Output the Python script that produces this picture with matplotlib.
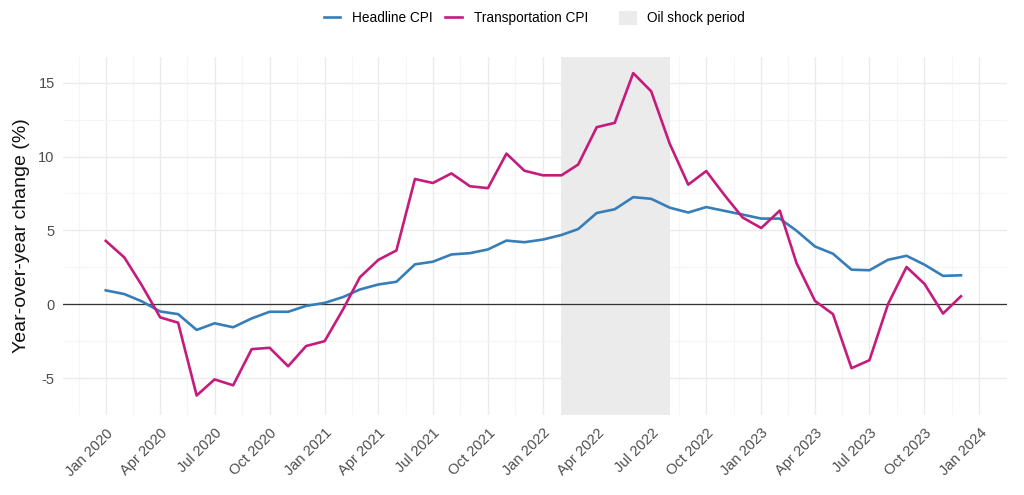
import numpy as np
import pandas as pd
import matplotlib
matplotlib.use("Agg")
import matplotlib.pyplot as plt
import matplotlib.dates as mdates
from matplotlib.lines import Line2D
from matplotlib.patches import Patch

plt.rcParams["font.family"] = ["Liberation Sans", "DejaVu Sans"]
plt.rcParams["axes.unicode_minus"] = False

months = pd.date_range("2020-01-01", "2023-12-01", freq="MS")

headline_cpi = [0.94, 0.69, 0.2, -0.49, -0.67, -1.74, -1.29, -1.56, -0.96, -0.51, -0.51, -0.11,
                0.09, 0.49, 1.0, 1.34, 1.52, 2.70, 2.88, 3.37, 3.46, 3.71, 4.31, 4.20,
                4.38, 4.69, 5.09, 6.18, 6.43, 7.25, 7.14, 6.54, 6.21, 6.58, 6.32, 6.07,
                5.80, 5.80, 4.98, 3.91, 3.42, 2.34, 2.30, 3.01, 3.28, 2.68, 1.92, 1.96]

transport_cpi = [4.29, 3.17, 1.3, -0.89, -1.25, -6.18, -5.09, -5.49, -3.04, -2.95, -4.20, -2.83,
                 -2.50, -0.33, 1.83, 3.01, 3.64, 8.48, 8.21, 8.86, 7.99, 7.86, 10.20, 9.04,
                 8.73, 8.73, 9.46, 11.99, 12.28, 15.65, 14.42, 10.87, 8.10, 9.02, 7.37, 5.87,
                 5.16, 6.34, 2.79, 0.22, -0.67, -4.33, -3.79, 0.0, 2.52, 1.38, -0.63, 0.54]

shock_start = pd.Timestamp("2022-02-01")
shock_end = pd.Timestamp("2022-08-01")

blue = "#377EB8"
magenta = "#C51B7D"

fig = plt.figure(figsize=(10.24, 4.95), dpi=100)
ax = fig.add_axes([63 / 1024, 1 - 415 / 495, (1007 - 63) / 1024, (415 - 57) / 495])

ax.axvspan(shock_start, shock_end, color="#EBEBEB", lw=0, zorder=1)
ax.axhline(0, color="#333333", lw=0.9, zorder=2)
ax.plot(months, headline_cpi, color=blue, lw=1.9, zorder=3)
ax.plot(months, transport_cpi, color=magenta, lw=1.9, zorder=3)

# limits with ggplot-like 5% expansion
x0, x1 = mdates.date2num(months[0]), mdates.date2num(months[-1])
dx = (x1 - x0) * 0.05
ax.set_xlim(x0 - dx, x1 + dx)
allv = headline_cpi + transport_cpi
ymin, ymax = min(allv), max(allv)
dy = (ymax - ymin) * 0.05
ax.set_ylim(ymin - dy, ymax + dy)

major = pd.date_range("2020-01-01", "2024-01-01", freq="QS")
major_num = mdates.date2num(major)
minor_num = list((major_num[:-1] + major_num[1:]) / 2)
minor_num = [major_num[0] - (major_num[1] - major_num[0]) / 2] + minor_num + \
            [major_num[-1] + (major_num[-1] - major_num[-2]) / 2]
ax.set_xticks(major_num)
ax.set_xticks(minor_num, minor=True)
ax.set_xticklabels([d.strftime("%b %Y") for d in major], rotation=45, ha="right",
                   rotation_mode="anchor")
ax.set_yticks([-5, 0, 5, 10, 15])
ax.set_yticks([-7.5, -2.5, 2.5, 7.5, 12.5], minor=True)

ax.grid(which="major", color="#EBEBEB", lw=1.0, zorder=0)
ax.grid(which="minor", color="#F5F5F5", lw=0.8, zorder=0)
ax.set_axisbelow(True)
for s in ax.spines.values():
    s.set_visible(False)
ax.tick_params(which="both", length=0, colors="#4D4D4D", labelsize=10.5)
ax.tick_params(axis="x", pad=8)
ax.tick_params(axis="y", pad=6)

ax.set_ylabel("Year-over-year change (%)", fontsize=14, color="#111111", labelpad=6)

h1 = [Line2D([], [], color=blue, lw=1.9), Line2D([], [], color=magenta, lw=1.9)]
leg1 = fig.legend(h1, ["Headline CPI", "Transportation CPI"], loc="center",
                  bbox_to_anchor=(456 / 1024, 1 - 18 / 495), ncol=2, frameon=False,
                  fontsize=9.8, handlelength=1.2, handletextpad=0.9, columnspacing=0.9)
h2 = [Patch(facecolor="#EBEBEB", edgecolor="none")]
leg2 = fig.legend(h2, ["Oil shock period"], loc="center",
                  bbox_to_anchor=(682 / 1024, 1 - 18 / 495), frameon=False,
                  fontsize=9.8, handlelength=1.3, handleheight=1.3, handletextpad=0.8)

fig.savefig("out.png", dpi=100, facecolor="white")
